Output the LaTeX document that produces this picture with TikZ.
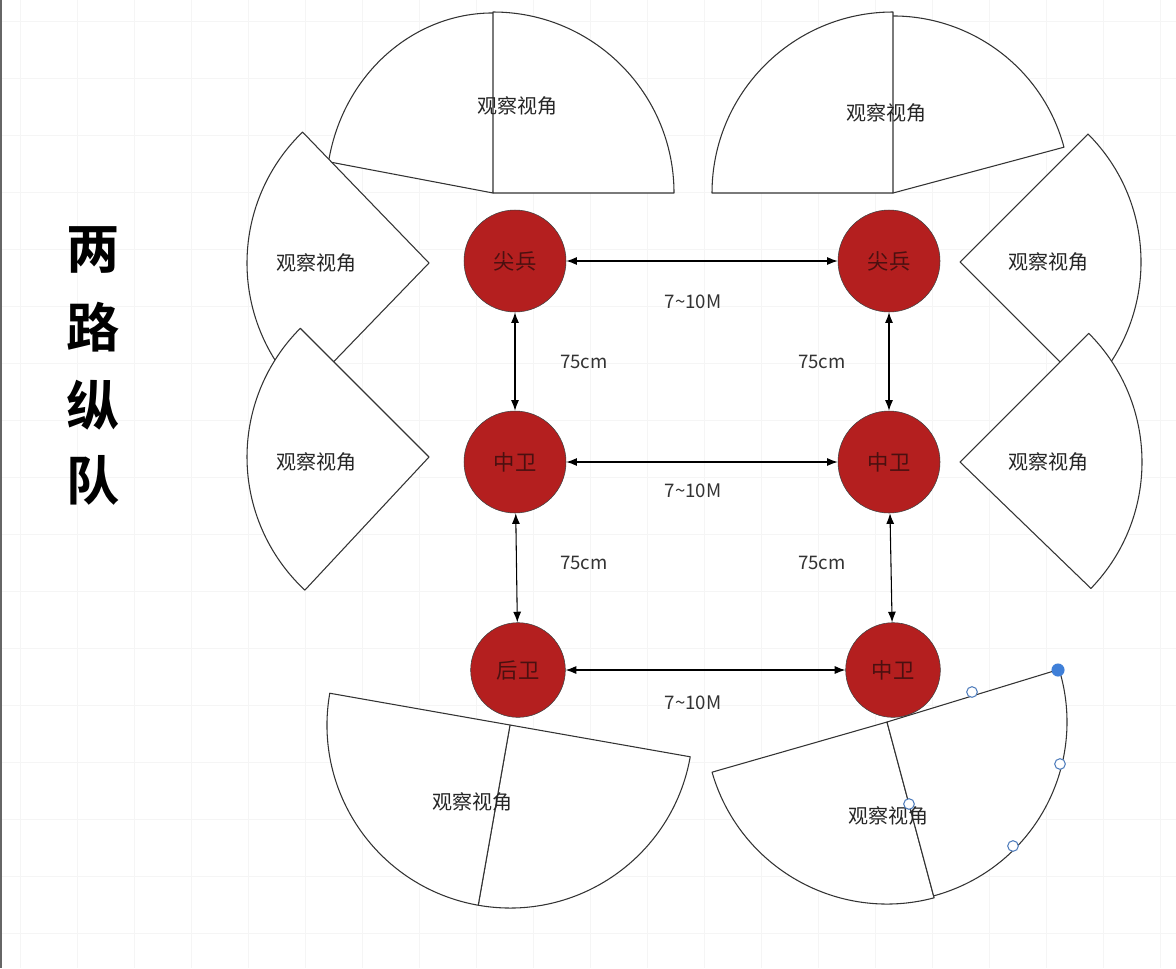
\documentclass[tikz,border=0pt]{standalone}
\usepackage{fontspec}
\newfontfamily\cjk{Noto Sans CJK SC}[BoldFont={Noto Sans CJK SC Bold}]
\usetikzlibrary{arrows.meta}
\definecolor{soldier}{HTML}{B41F1F}
\definecolor{soldiertext}{HTML}{4A1010}
\definecolor{handle}{HTML}{3F7FD8}

\begin{document}
\begin{tikzpicture}[x = 0.75pt, y = -0.75pt,
    man/.style = {draw = black!75, circle, fill = soldier, minimum size = 76.5pt, inner sep = 0pt, text = soldiertext, font = \cjk\fontsize{16}{16}\selectfont},
    rear/.style = {man, minimum size = 71pt},
    sec/.style = {draw = black!80, fill = white, line width = 0.8pt, line join = round},
    view/.style = {font = \cjk\fontsize{15}{15}\selectfont, text = black!85},
    dist/.style = {font = \cjk\fontsize{14}{14}\selectfont, text = black!80},
    title/.style = {font = \cjk\bfseries\fontsize{40}{40}\selectfont},
    a/.style = {{Latex[length = 8pt, width = 6pt]}-{Latex[length = 8pt, width = 6pt]}, line width = 0.8pt},
    hd/.style = {circle, draw = handle!70!gray, fill = white, inner sep = 0pt, minimum size = 8pt, line width = 0.8pt}]
      \useasboundingbox (0,0) rectangle (1176,968);
      \fill [white] (0,0) rectangle (1176,968);
      \foreach \g in {20,77,...,1176} {
        \draw [black!4] (\g,0) -- (\g,968);
      }
      \foreach \g in {21,78,...,968} {
        \draw [black!4] (0,\g) -- (1176,\g);
      }
      \draw [black!60, line width = 2pt] (1,0) -- (1,968);

      % upper and side sectors (angles negated, y runs down)
      \draw [sec] (493,193) -- ++(-80:167 and 180) arc [start angle = -80, end angle = -170, x radius = 167, y radius = 180] -- cycle;
      \foreach \cx/\cy/\r/\p/\q in {493/193/181/0/-90, 893/193/177/-15/-105, 893/193/181/-90/-180,
          429/263/182/-134/-226, 960/262/181/45/-45, 429/457/182/-135/-227, 960/462/182/44/-45} {
        \draw [sec] (\cx,\cy) -- ++(\p:\r) arc [start angle = \p, end angle = \q, radius = \r] -- cycle;
      }

      \node [man] (jb1) at (515, 261) {尖兵};
      \node [man] (jb2) at (889, 261) {尖兵};
      \node [man] (zw1) at (515, 462) {中卫};
      \node [man] (zw2) at (889, 462) {中卫};
      \node [rear] (hw) at (518, 670) {后卫};
      \node [rear] (zw3) at (893, 670) {中卫};

      \draw [a] (jb1) -- (jb2);
      \draw [a] (zw1) -- (zw2);
      \draw [a] (hw) -- (zw3);
      \draw [a] (jb1) -- (zw1);
      \draw [a] (zw1) -- (hw);
      \draw [a] (jb2) -- (zw2);
      \draw [a] (zw2) -- (zw3);

      \node [dist] (d1) at (693, 302) {7\textasciitilde10M};
      \node [dist] (d2) at (693, 491) {7\textasciitilde10M};
      \node [dist] (d3) at (693, 703) {7\textasciitilde10M};
      \node [dist] (c1) at (584, 362) {75cm};
      \node [dist] (c2) at (822, 362) {75cm};
      \node [dist] (c3) at (584, 563) {75cm};
      \node [dist] (c4) at (822, 563) {75cm};

      % lower sectors
      \foreach \cx/\cy/\r/\p/\q in {510/725/183/100/10, 510/725/183/-170/-260, 887/722/182/-196/-285, 887/722/180/75/-17} {
        \draw [sec] (\cx,\cy) -- ++(\p:\r) arc [start angle = \p, end angle = \q, radius = \r] -- cycle;
      }

      \foreach \x/\y [count = \i] in {517/106, 886/113, 316/263, 316/462, 1048/262, 1048/462, 472/802, 888/816} {
        \node [view] (v\i) at (\x,\y) {观察视角};
      }

      \foreach \ch/\y [count = \i] in {两/250, 路/327, 纵/405, 队/480} {
        \node [title] (t\i) at (93,\y) {\ch};
      }

      \node [hd, fill = handle, draw = handle, minimum size = 9pt] (h0) at (1058, 670) {};
      \foreach \x/\y [count = \i] in {972/692, 1060/764, 1013/846, 909/804} {
        \node [hd] (h\i) at (\x,\y) {};
      }
    \end{tikzpicture}
\end{document}
